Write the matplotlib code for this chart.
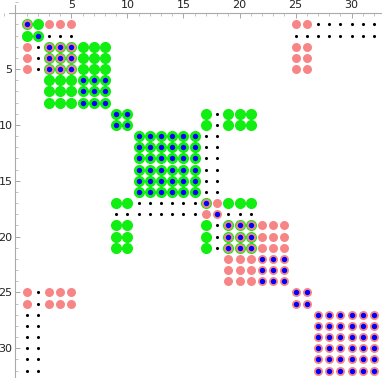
import numpy as np
import matplotlib
matplotlib.use("Agg")
import matplotlib.pyplot as plt
from matplotlib.ticker import MultipleLocator

# index groups (blocks) along both axes, in order 1..32
block_sizes = [1, 1, 3, 3, 2, 6, 1, 1, 3, 3, 2, 6]

# block pairs (upper triangle, mirrored) carrying each marker layer
green_pairs = [(0, 0), (0, 1), (1, 1), (2, 2), (2, 3), (3, 3), (4, 4),
               (4, 6), (4, 8), (5, 5), (6, 6), (6, 8), (8, 8)]
salmon_pairs = [(0, 0), (0, 2), (0, 10), (2, 2), (2, 10), (6, 6), (6, 7),
                (7, 7), (8, 8), (8, 9), (9, 9), (10, 10), (11, 11)]
blue_pairs = [(b, b) for b in range(12)]
black_pairs = [(0, 11), (1, 2), (1, 10), (1, 11), (4, 7), (5, 6), (5, 7), (7, 8)]

tick_values = [5, 10, 15, 20, 25, 30]

starts = np.concatenate([[1], 1 + np.cumsum(block_sizes)[:-1]])
idx = [np.arange(s, s + n) for s, n in zip(starts, block_sizes)]


def cells(pairs):
    rows, cols = [], []
    for a, b in pairs:
        for p, q in {(a, b), (b, a)}:
            rr, cc = np.meshgrid(idx[p], idx[q], indexing='ij')
            rows.extend(rr.ravel())
            cols.extend(cc.ravel())
    return np.array(cols), np.array(rows)


fig = plt.figure(figsize=(3.82, 3.78), dpi=100)
ax = fig.add_axes([0, 0, 1, 1])

layers = [
    (green_pairs, '#11ee11', 64),
    (salmon_pairs, '#f88585', 42),
    (blue_pairs, '#0000ff', 15),
    (black_pairs, '#000000', 5),
]
for pairs, color, size in layers:
    x, y = cells(pairs)
    ax.scatter(x, y, s=size, c=color, linewidths=0, zorder=3)

ax.set_xlim(-1.38, 32.72)
ax.set_ylim(32.67, -1.18)

for side in ['right', 'bottom']:
    ax.spines[side].set_visible(False)
for side in ['left', 'top']:
    ax.spines[side].set_position(('data', 0))
    ax.spines[side].set_color('#aaaaaa')
    ax.spines[side].set_linewidth(0.8)
ax.spines['top'].set_bounds(-0.6, 32.72)
ax.spines['left'].set_bounds(-0.7, 32.67)

ax.xaxis.set_ticks_position('top')
ax.yaxis.set_ticks_position('left')
ax.set_xticks(tick_values)
ax.set_yticks(tick_values)
ax.xaxis.set_minor_locator(MultipleLocator(1))
ax.yaxis.set_minor_locator(MultipleLocator(1))
ax.tick_params(which='major', direction='in', length=3.5, width=0.6,
               color='#999999', labelsize=8, pad=2, labelcolor='#222222')
ax.tick_params(which='minor', direction='in', length=2, width=0.5,
               color='#aaaaaa')

fig.savefig('out.png', dpi=100)
